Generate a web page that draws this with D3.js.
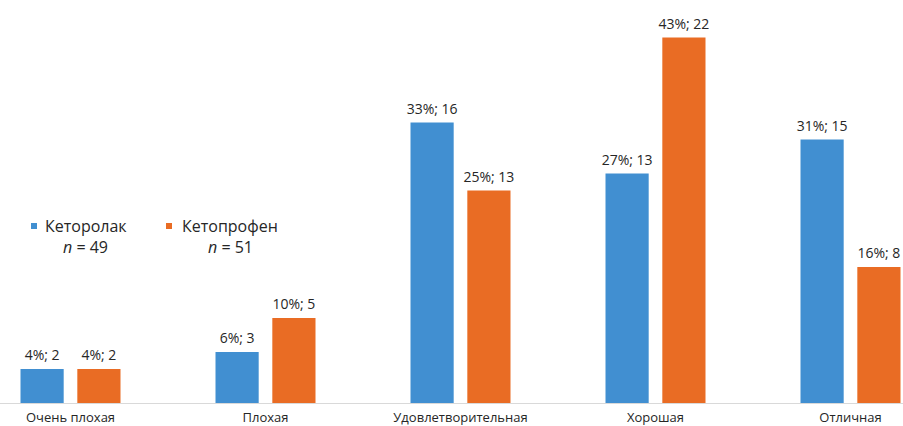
<!DOCTYPE html>
<html><head><meta charset="utf-8">
<script src="https://cdn.jsdelivr.net/npm/d3@7"></script>
<style>body{margin:0;background:#fff}svg{display:block}</style>
</head><body>
<svg id="c" width="903" height="426"></svg>
<script>
const categories = ["Очень плохая","Плохая","Удовлетворительная","Хорошая","Отличная"];
const seriesNames = ["Кеторолак","Кетопрофен"];
const seriesN = [49, 51];
const ketorolacPct = [4, 6, 33, 27, 31];
const ketorolacN = [2, 3, 16, 13, 15];
const ketoprofenPct = [4, 10, 25, 43, 16];
const ketoprofenN = [2, 5, 13, 22, 8];
const colors = ["#418fd1", "#e96c24"];

const svg = d3.select("#c");
const font = "'Open Sans', 'Noto Sans', sans-serif";
const baseY = 403;
const x0 = d3.scaleBand().domain(categories).range([-27, 948]).paddingInner(0).paddingOuter(0);
const x1 = d3.scaleBand().domain([0,1]).range([x0.bandwidth()/2 - 50, x0.bandwidth()/2 + 50]).paddingInner(0.24);
const y = d3.scaleLinear().domain([0, 50]).range([baseY, baseY - 425]);

const pcts = [ketorolacPct, ketoprofenPct];
const counts = [ketorolacN, ketoprofenN];
const data = [];
categories.forEach((c, i) => {
  [0,1].forEach(s => data.push({c, s, v: pcts[s][i], n: counts[s][i]}));
});

svg.append("line").attr("x1", 0).attr("x2", 903).attr("y1", baseY + 0.5).attr("y2", baseY + 0.5)
  .attr("stroke", "#d9d9d9").attr("stroke-width", 1);

svg.selectAll("rect.bar").data(data).enter().append("rect")
  .attr("class", "bar")
  .attr("x", d => x0(d.c) + x1(d.s))
  .attr("width", x1.bandwidth())
  .attr("y", d => y(d.v))
  .attr("height", d => y(0) - y(d.v))
  .attr("fill", d => colors[d.s]);

svg.selectAll("text.lbl").data(data).enter().append("text")
  .attr("class", "lbl")
  .attr("x", d => x0(d.c) + x1(d.s) + x1.bandwidth()/2)
  .attr("y", d => y(d.v) - 9)
  .attr("text-anchor", "middle")
  .attr("font-family", font).attr("font-size", 14).attr("fill", "#262626")
  .text(d => `${d.v}%; ${d.n}`);

const xAxis = d3.axisBottom(x0).tickSize(0).tickPadding(0);
const ax = svg.append("g").attr("transform", `translate(0,${baseY})`).call(xAxis);
ax.select(".domain").remove();
ax.selectAll("text").attr("font-family", font).attr("font-size", 13).attr("fill", "#262626")
  .attr("dy", null).attr("y", 19);

// legend
const legX = [31, 166];
const legTextX = [45, 182];
seriesNames.forEach((name, i) => {
  svg.append("rect").attr("x", legX[i]).attr("y", 223).attr("width", 6).attr("height", 6).attr("fill", colors[i]);
  svg.append("text").attr("x", legTextX[i]).attr("y", 232)
    .attr("font-family", font).attr("font-size", 16).attr("fill", "#262626").text(name);
  const t = svg.append("text").attr("x", legTextX[i] + 18 + (i ? 8 : 0)).attr("y", 253)
    .attr("font-family", font).attr("font-size", 16).attr("fill", "#262626");
  t.append("tspan").attr("font-style", "italic").text("n");
  t.append("tspan").text(" = " + seriesN[i]);
});
</script>
</body></html>
